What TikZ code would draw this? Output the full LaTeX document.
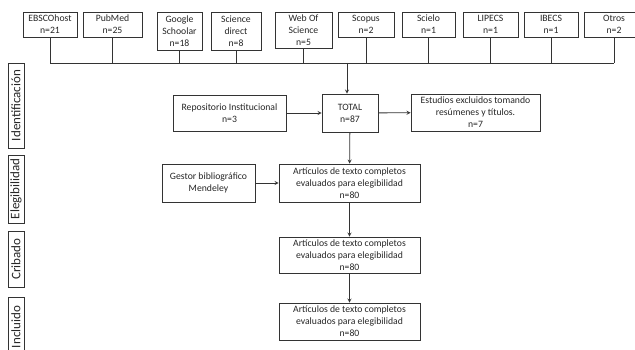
\documentclass[tikz,border=0pt]{standalone}
\usepackage{fontspec}
\setmainfont{Carlito}
\usetikzlibrary{arrows}

\colorlet{trazo}{black!80}

\tikzset{
  caja/.style={draw=trazo, text=black!85, line width=0.8pt, align=center, inner sep=1pt,
    font=\fontsize{9.7}{12}\selectfont},
  etapa/.style={caja, rotate=90, minimum height=16pt, font=\fontsize{13}{14}\selectfont},
  linea/.style={draw=trazo, line width=0.8pt},
  flecha/.style={linea, ->, >=stealth}
}

\begin{document}
\begin{tikzpicture}[x=1pt, y=-1pt]
\useasboundingbox (0,0) rectangle (635,350);

\node[caja, minimum width=54pt, minimum height=25pt] (ebsco) at (50,24.5) {EBSCOhost\\n=21};
\node[caja, minimum width=59pt, minimum height=25pt] (pubmed) at (112.5,24.5) {PubMed\\n=25};
\node[caja, minimum width=45pt, minimum height=38pt] (google) at (179.5,31) {Google\\Schoolar\\n=18};
\node[caja, minimum width=50pt, minimum height=38pt] (science) at (236,31) {Science\\direct\\n=8};
\node[caja, minimum width=57pt, minimum height=36pt] (wos) at (303.5,30) {Web Of\\Science\\n=5};
\node[caja, minimum width=56pt, minimum height=25pt] (scopus) at (366,24.5) {Scopus\\n=2};
\node[caja, minimum width=53pt, minimum height=25pt] (scielo) at (428.5,24.5) {Scielo\\n=1};
\node[caja, minimum width=55pt, minimum height=25pt] (lipecs) at (490.5,24.5) {LIPECS\\n=1};
\node[caja, minimum width=54pt, minimum height=25pt] (ibecs) at (551,24.5) {IBECS\\n=1};
\node[caja, minimum width=60pt, minimum height=25pt] (otros) at (614,24.5) {Otros\\n=2};

\coordinate (bus) at (347,63);

\node[caja, minimum width=56pt, minimum height=38pt] (total) at (350,113) {TOTAL\\n=87};
\node[caja, minimum width=113pt, minimum height=36pt] (repo) at (229.5,113) {Repositorio Institucional\\n=3};
\node[caja, minimum width=129pt, minimum height=37pt] (excl) at (475.5,112.5) {Estudios excluidos tomando\\res\'umenes y t\'itulos.\\n=7};
\node[caja, minimum width=141pt, minimum height=38pt] (art1) at (349.5,183) {Art\'iculos de texto completos\\evaluados para elegibilidad\\n=80};
\node[caja, minimum width=93pt, minimum height=38pt] (gestor) at (208.5,183) {Gestor bibliogr\'afico\\Mendeley};
\node[caja, minimum width=141pt, minimum height=36pt] (art2) at (349.5,255) {Art\'iculos de texto completos\\evaluados para elegibilidad\\n=80};
\node[caja, minimum width=141pt, minimum height=37pt] (art3) at (349.5,321.5) {Art\'iculos de texto completos\\evaluados para elegibilidad\\n=80};

\node[etapa, minimum width=85pt] (ident) at (16,105.5) {Identificaci\'on};
\node[etapa, minimum width=68pt] (eleg) at (16,189) {Elegibilidad};
\node[etapa, minimum width=56pt] (crib) at (16,259) {Cribado};
\node[etapa, minimum width=60pt] (incl) at (16,327) {Incluido};

\foreach \n in {ebsco,pubmed,google,science,wos,scopus,scielo,lipecs,ibecs,otros}
  \draw[linea] (\n.south) -- (\n.south |- bus);
\draw[linea] (ebsco.south |- bus) -- (otros.south |- bus);
\draw[flecha] (bus) -- (bus |- total.north);
\draw[flecha] (repo) -- (total);
\draw[flecha] (total) -- (excl);
\draw[flecha] (total) -- (art1);
\draw[flecha] (gestor) -- (art1);
\draw[flecha] (art1) -- (art2);
\draw[flecha] (art2) -- (art3);
\end{tikzpicture}
\end{document}
